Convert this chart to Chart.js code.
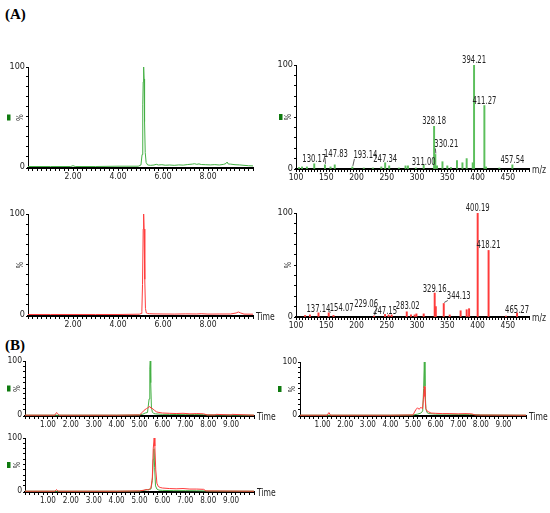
<!DOCTYPE html>
<html>
<head>
<meta charset="utf-8">
<script src="https://cdn.jsdelivr.net/npm/chart.js@4.4.1/dist/chart.umd.min.js"></script>
<style>
  body { margin: 0; background: #fff; }
  #fig { position: relative; width: 550px; height: 513px; overflow: hidden; background: #fff; }
  #fig canvas { position: absolute; }
  .tag { position: absolute; font: bold 15px 'Liberation Serif', 'Times New Roman', serif; color: #000; }
</style>
</head>
<body>
<div id="fig">
  <div class="tag" style="left:5px;top:6px">(A)</div>
  <div class="tag" style="left:5px;top:337px">(B)</div>
</div>
<script>
// ---- panel A, chromatograms (time in min, intensity in %)
const a1Time = [0, 1.0, 1.9, 2.0, 2.1, 3.0, 4.0, 4.9, 5.02, 5.07, 5.10, 5.12, 5.14, 5.16, 5.18, 5.21, 5.25, 5.32, 5.45, 5.6, 5.7, 5.8, 5.95, 6.1, 6.3, 6.5, 6.7, 6.9, 7.1, 7.3, 7.4, 7.5, 7.6, 7.7, 7.9, 8.1, 8.3, 8.5, 8.7, 8.8, 8.85, 8.9, 9.0, 9.2, 9.4, 9.6, 9.8, 10];
const a1Green = [0, 0, 0, 0.8, 0, 0, 0.3, 0.3, 1.5, 12, 62, 85, 100, 88, 45, 14, 4, 1.5, 1.2, 1.5, 2.2, 1.5, 1.8, 1.3, 1.5, 1.2, 1.6, 1.4, 2.0, 2.4, 2.8, 2.2, 2.6, 2.0, 1.8, 1.6, 1.9, 1.5, 2.2, 3.0, 4.5, 2.5, 2.4, 1.8, 1.6, 1.2, 0.8, 0.6];

const a2Time = [0, 1.0, 2.0, 3.0, 4.0, 4.95, 5.03, 5.06, 5.09, 5.12, 5.14, 5.16, 5.19, 5.22, 5.26, 5.32, 5.40, 5.6, 6.0, 6.5, 7.0, 7.5, 7.7, 8.0, 8.5, 9.0, 9.25, 9.35, 9.45, 9.6, 10];
const a2Red = [0, 0, 0, 0, 0, 0.3, 1, 3, 30, 85, 100, 85, 35, 6, 1.5, 1.0, 0.8, 0.6, 0.5, 0.4, 0.6, 0.5, 0.8, 0.4, 0.5, 0.5, 1.5, 2.5, 1.5, 0.4, 0.3];

// ---- panel A, mass spectra (m/z, relative %)
const s1Mz = [105, 110, 118, 130.17, 147.83, 157, 164, 193.14, 212, 227, 241, 247.34, 254, 270, 281, 285, 298, 311.00, 328.18, 330.21, 333, 342, 350, 356, 366, 375, 382, 392, 394.21, 411.27, 414, 436, 457.54];
const s1Int = [1.5, 2, 2, 5, 4, 2, 4, 2, 1, 1, 2, 6, 3, 1, 3, 3, 1, 4, 41, 14, 3, 7, 3, 1.5, 8, 6, 10, 6, 100, 61, 2, 1, 4];
const s1Labels = [130.17, 147.83, 193.14, 247.34, 311.00, 328.18, 330.21, 394.21, 411.27, 457.54];

const s2Mz = [115, 123, 137.14, 154.07, 162, 229.06, 247.15, 253, 258, 283.02, 290, 296, 299, 311, 329.16, 331, 344.13, 354, 372, 382, 386, 400.19, 418.21, 447, 465.27];
const s2Int = [1.5, 2, 4, 4, 1.5, 1, 2.5, 2, 2, 5, 2, 2, 3, 3, 23, 10, 13, 2, 6, 7, 8, 100, 64, 1, 4];
const s2Labels = [137.14, 154.07, 229.06, 247.15, 283.02, 329.16, 344.13, 400.19, 418.21, 465.27];

// ---- panel B, overlaid chromatograms
const b1TimeG = [0, 1.0, 2.0, 3.0, 4.0, 5.0, 5.15, 5.25, 5.35, 5.42, 5.45, 5.47, 5.49, 5.52, 5.56, 5.62, 5.7, 5.85, 6.0, 6.3, 6.6, 7.0, 7.4, 7.8, 8.0, 9.0, 10];
const b1Green = [0, 0, 0, 0, 0, 0.5, 2, 4, 5, 30, 85, 100, 60, 15, 6, 3, 2.5, 2, 1.5, 1.5, 1.2, 1.5, 1.2, 1.0, 0.5, 0.3, 0];
const b1TimeR = [0, 1.3, 1.38, 1.42, 1.5, 2.5, 4.0, 5.0, 5.12, 5.2, 5.3, 5.38, 5.45, 5.5, 5.58, 5.65, 5.75, 5.85, 6.0, 6.3, 6.6, 6.9, 7.2, 7.5, 7.8, 7.95, 8.3, 8.35, 9.0, 9.05, 10];
const b1Red = [0, 0, 5, 3, 0, 0, 0, 0.5, 5, 9, 12, 14, 16, 13, 12, 9, 6, 5, 4, 3.5, 3, 3.5, 2.5, 3, 2.5, 0.5, 0.5, 1.5, 0.5, 1.5, 0];

const b2TimeG = [0, 2.0, 4.0, 5.0, 5.2, 5.35, 5.43, 5.47, 5.5, 5.53, 5.57, 5.62, 5.7, 5.85, 6.0, 6.5, 7.0, 7.5, 8.0, 10];
const b2Green = [0, 0, 0, 0.3, 2, 4, 8, 50, 100, 55, 12, 5, 3, 2.5, 2, 2, 1.5, 1.5, 0.5, 0];
const b2TimeR = [0, 1.2, 1.28, 1.35, 2.5, 4.0, 5.0, 5.12, 5.2, 5.27, 5.35, 5.42, 5.46, 5.5, 5.53, 5.57, 5.62, 5.7, 5.8, 6.0, 6.3, 6.6, 7.0, 7.3, 7.6, 7.75, 8.0, 10];
const b2Red = [0, 0, 5, 0, 0, 0, 0.5, 10, 14, 11, 15, 12, 30, 54, 35, 12, 8, 6, 4, 3.5, 3, 3, 2.5, 3, 2.5, 0.5, 0.3, 0];

const b3TimeG = [0, 2.0, 4.0, 5.0, 5.2, 5.35, 5.5, 5.56, 5.6, 5.63, 5.66, 5.7, 5.76, 5.85, 6.0, 6.5, 7.0, 7.5, 8.0, 10];
const b3Green = [0, 0, 0, 0.3, 1.5, 3, 4, 20, 60, 80, 45, 10, 4, 2, 1.5, 1, 1, 0.8, 0.3, 0];
const b3TimeR = [0, 1.3, 1.38, 1.45, 2.5, 4.0, 5.0, 5.2, 5.28, 5.4, 5.5, 5.56, 5.6, 5.64, 5.67, 5.71, 5.76, 5.82, 5.9, 6.0, 6.3, 6.6, 6.9, 7.2, 7.5, 7.8, 7.9, 10];
const b3Red = [0, 0, 3, 0, 0, 0, 0.5, 2, 3, 2.5, 6, 25, 80, 100, 85, 40, 15, 9, 7, 6, 5, 4.5, 5, 4, 4, 3.5, 0.5, 0];

const FONT = "'Liberation Sans Narrow', 'DejaVu Sans Condensed', 'Liberation Sans', sans-serif";
const GREEN = '#45b045', GREEN_BAR = '#5cbf5c', RED = '#ff3b3b', MARK = '#0f7a0f', INK = '#222';

// condensed text, like the instrument software's labels
function narrowText(ctx, txt, x, y, squeeze) {
    ctx.save();
    ctx.translate(x, y);
    ctx.scale(squeeze, 1);
    ctx.fillText(txt, 0, 0);
    ctx.restore();
}

// axis labels, the little channel marker and the peak labels
const decor = {
    id: 'decor',
    afterDraw(chart, args, o) {
        const { ctx, chartArea: a, scales: { x, y } } = chart;
        const mid = (a.top + a.bottom) / 2;
        ctx.save();
        ctx.fillStyle = INK;
        ctx.font = '8px ' + FONT;
        ctx.translate(a.left - 7, mid);
        ctx.rotate(-Math.PI / 2);
        ctx.textAlign = 'center';
        ctx.textBaseline = 'middle';
        ctx.fillText('%', 0, 0);
        ctx.restore();

        ctx.save();
        ctx.fillStyle = INK;
        ctx.font = o.ySize + 'px ' + FONT;
        ctx.textAlign = 'right';
        ctx.textBaseline = 'middle';
        ctx.fillText('100', a.left - 3, y.getPixelForValue(100));
        ctx.fillText('0', a.left - 3, y.getPixelForValue(0));

        if (o.marker) {
            ctx.fillStyle = MARK;
            ctx.fillRect(a.left - o.marker, mid - 3, 3.5, 6);
        }
        if (o.unit) {
            ctx.fillStyle = INK;
            ctx.font = '10px ' + FONT;
            ctx.textAlign = 'left';
            ctx.textBaseline = 'middle';
            narrowText(ctx, o.unit, a.right + 3, a.bottom + 1, 0.85);
        }
        if (o.labels) {
            const pts = chart.data.datasets[0].data;
            ctx.font = '10px ' + FONT;
            ctx.fillStyle = INK;
            ctx.strokeStyle = '#333';
            ctx.lineWidth = 0.8;
            ctx.textAlign = 'center';
            ctx.textBaseline = 'alphabetic';
            o.labels.forEach(m => {
                const p = pts.find(q => q.x === m);
                const txt = m.toFixed(2);
                const s = o.shift[txt] || {};
                const px = x.getPixelForValue(m);
                const py = y.getPixelForValue(p.y);
                const tx = px + (s.dx || 0);
                const ty = py - (s.gap == null ? 2 : s.gap);
                narrowText(ctx, txt, tx, ty, 0.76);
                if (s.lead) {
                    const w = ctx.measureText(txt).width * 0.76;
                    const ex = s.dx > 0 ? tx - w / 2 + 1 : tx + w / 2 - 1;
                    ctx.beginPath();
                    ctx.moveTo(px + 0.5, py - 1);
                    ctx.lineTo(ex, ty + 1);
                    ctx.stroke();
                }
            });
        }
        ctx.restore();
    }
};

// area = [left, top, right, bottom] of the plot area on the page
function addPanel(area, config) {
    const padL = 32, padT = 14, padR = 24, padB = 16;
    const w = area[2] - area[0] + padL + padR;
    const h = area[3] - area[1] + padT + padB;
    const c = document.createElement('canvas');
    c.width = w;
    c.height = h;
    c.style.left = (area[0] - padL) + 'px';
    c.style.top = (area[1] - padT) + 'px';
    c.style.width = w + 'px';
    c.style.height = h + 'px';
    document.getElementById('fig').appendChild(c);
    config.options.responsive = false;
    config.options.animation = false;
    config.options.layout = { padding: { left: 0, top: padT, right: padR, bottom: 0 } };
    config.options.scales.x.afterFit = s => { s.height = padB; };
    config.options.scales.y.afterFit = s => { s.width = padL; };
    config.plugins = [decor];
    return new Chart(c, config);
}

function yAxis(min) {
    return {
        min: min, max: 100,
        border: { color: '#000', width: 1 },
        grid: { drawOnChartArea: false, tickLength: 2, color: '#000' },
        ticks: { stepSize: 10, autoSkip: false, padding: 1, callback: () => '' }
    };
}

function timeAxis(every, size) {
    return {
        type: 'linear', min: 0, max: 10,
        border: { color: '#000', width: 2 },
        grid: { drawOnChartArea: false, tickLength: 3, color: '#000' },
        ticks: {
            stepSize: 0.2, autoSkip: false, maxRotation: 0, minRotation: 0, padding: 1,
            color: INK, font: { family: FONT, size: size },
            callback: v => {
                const r = Math.round(v);
                return (Math.abs(v - r) < 1e-6 && r > 0 && r < 10 && r % every === 0) ? r.toFixed(2) : '';
            }
        }
    };
}

function mzAxis() {
    return {
        type: 'linear', min: 100, max: 485, offset: false,
        border: { color: '#000', width: 2 },
        grid: { drawOnChartArea: false, offset: false, tickLength: 3, color: '#000' },
        ticks: {
            stepSize: 5, autoSkip: false, maxRotation: 0, minRotation: 0, padding: 1,
            color: INK, font: { family: FONT, size: 8.5 },
            callback: v => (v % 50 === 0 && v <= 450) ? String(v) : ''
        }
    };
}

function trace(times, values, color) {
    return {
        data: times.map((t, i) => ({ x: t, y: values[i] })),
        borderColor: color, borderWidth: 1, pointRadius: 0, tension: 0, clip: 4
    };
}

function chromPanel(area, traces, every, size, decorOpts) {
    decorOpts.ySize = size + 0.5;
    return addPanel(area, {
        type: 'line',
        data: { datasets: traces },
        options: {
            plugins: { legend: { display: false }, tooltip: { enabled: false }, decor: decorOpts },
            scales: { x: timeAxis(every, size), y: yAxis(-1.5) }
        }
    });
}

function specPanel(area, mz, inten, color, labels, shift, marker) {
    return addPanel(area, {
        type: 'bar',
        data: { datasets: [{
            data: mz.map((m, i) => ({ x: m, y: inten[i] })),
            backgroundColor: color, borderWidth: 0, barThickness: 1.3, grouped: false
        }] },
        options: {
            plugins: {
                legend: { display: false }, tooltip: { enabled: false },
                decor: { marker: marker, unit: 'm/z', labels: labels, shift: shift, ySize: 9 }
            },
            scales: { x: mzAxis(), y: yAxis(0) }
        }
    });
}

// (A) chromatograms
chromPanel([28, 67, 253, 168], [trace(a1Time, a1Green, GREEN)], 2, 8.5, { marker: 21 });
chromPanel([28, 214, 253, 316], [trace(a2Time, a2Red, RED)], 2, 8.5, { unit: 'Time' });

// (A) spectra
specPanel([296, 65, 529, 169], s1Mz, s1Int, GREEN_BAR, s1Labels, {
    '147.83': { dx: 11, gap: 8, lead: true },
    '193.14': { dx: 13, gap: 9, lead: true },
    '330.21': { dx: 11, gap: 7, lead: true },
    '247.34': { gap: 1 },
    '311.00': { gap: 0 }
}, 17);
specPanel([296, 213, 529, 317], s2Mz, s2Int, RED, s2Labels, {
    '137.14': { gap: 0.5 },
    '154.07': { dx: 13, gap: 1.5, lead: true },
    '229.06': { dx: -8, gap: 9, lead: true },
    '247.15': { gap: 0.5 },
    '283.02': { dx: 1, gap: 3 },
    '329.16': { gap: 1 },
    '344.13': { dx: 15, gap: 4, lead: true },
    '465.27': { gap: 0 }
}, 0);

// (B) overlays, red drawn on top of green
chromPanel([25, 361, 254, 416], [trace(b1TimeR, b1Red, RED), trace(b1TimeG, b1Green, GREEN)], 1, 8, { marker: 18, unit: 'Time' });
chromPanel([300, 362, 526, 416], [trace(b2TimeR, b2Red, RED), trace(b2TimeG, b2Green, GREEN)], 1, 8, { marker: 22, unit: 'Time' });
chromPanel([25, 438, 254, 492], [trace(b3TimeR, b3Red, RED), trace(b3TimeG, b3Green, GREEN)], 1, 8, { marker: 18, unit: 'Time' });
</script>
</body>
</html>
